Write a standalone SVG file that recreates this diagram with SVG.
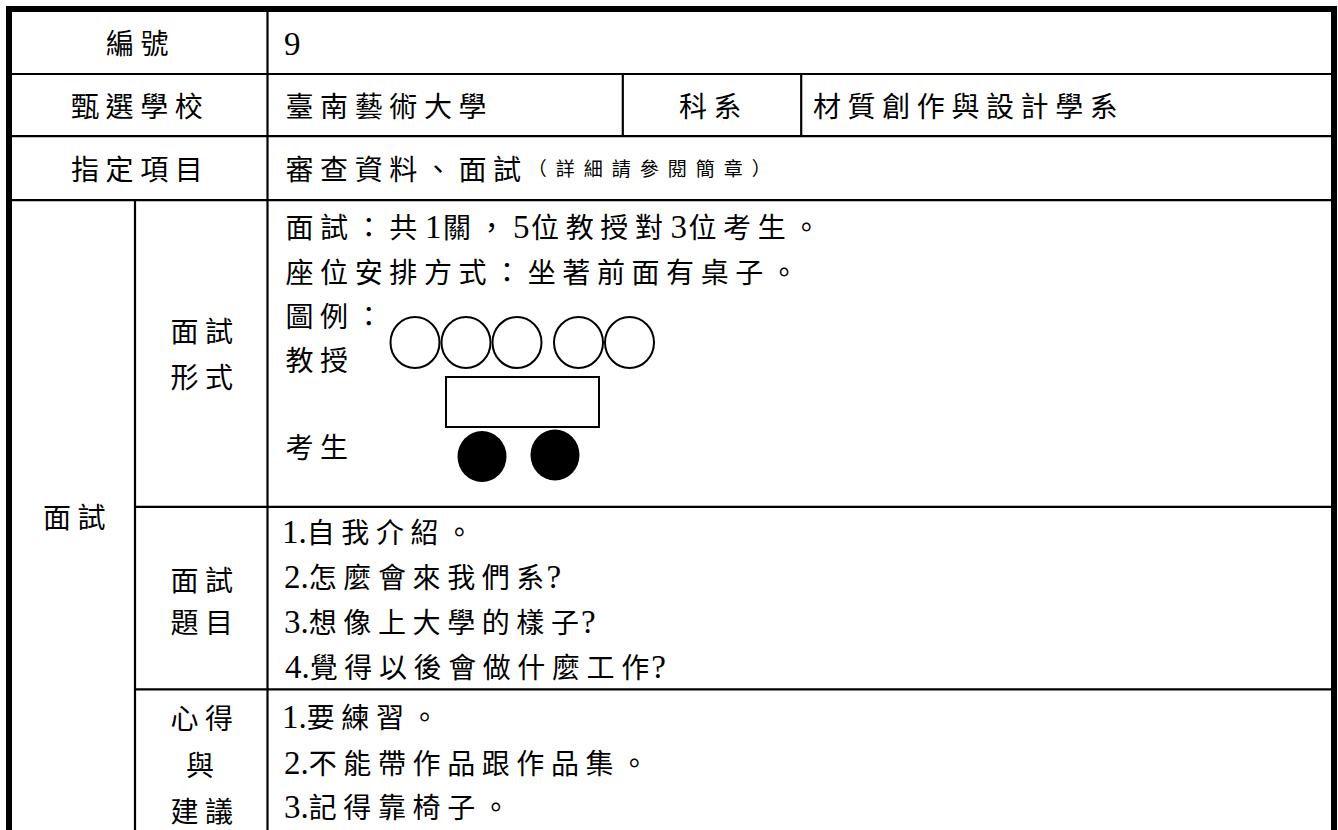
<svg xmlns="http://www.w3.org/2000/svg" width="1338" height="830" viewBox="0 0 1338 830">
<style>
text{font-family:"Liberation Serif","Noto Sans CJK TC",serif;font-size:28px;letter-spacing:6.6px;fill:#000}
.l{font-size:33px;letter-spacing:0}
.d{font-size:33px;letter-spacing:1.5px}
.t{letter-spacing:2px}
.s{font-size:19px;letter-spacing:9px}
.grid line{stroke:#000;stroke-width:2.2}
.frame{fill:none;stroke:#000;stroke-width:6}
.prof{fill:#fff;stroke:#000;stroke-width:2}
.stu{fill:#000}
.desk{fill:#fff;stroke:#000;stroke-width:2}
</style>
<rect width="1338" height="830" fill="#fff"/>
<g id="grid" class="grid">
<line x1="12" y1="74" x2="1331" y2="74"/>
<line x1="12" y1="136.2" x2="1331" y2="136.2"/>
<line x1="12" y1="200.2" x2="1331" y2="200.2"/>
<line x1="135" y1="506.8" x2="1331" y2="506.8"/>
<line x1="135" y1="689.3" x2="1331" y2="689.3"/>
<line x1="267.5" y1="12" x2="267.5" y2="830"/>
<line x1="135" y1="200" x2="135" y2="830"/>
<line x1="622.8" y1="74" x2="622.8" y2="136"/>
<line x1="801.2" y1="74" x2="801.2" y2="136"/>
</g>
<rect id="frame" class="frame" x="9" y="9" width="1325" height="900"/>
<g id="row-number">
<text x="106" y="54">編號</text>
<text x="284" y="55"><tspan class="l">9</tspan></text>
</g>
<g id="row-school">
<text x="71" y="117">甄選學校</text>
<text x="285.5" y="117">臺南藝術大學</text>
<text x="679" y="117">科系</text>
<text x="813" y="117">材質創作與設計學系</text>
</g>
<g id="row-items">
<text x="71" y="180">指定項目</text>
<text x="285.5" y="180">審查資料、面試<tspan class="s" y="176">（詳細請參閱簡章）</tspan></text>
</g>
<g id="interview-label">
<text x="43" y="528">面試</text>
</g>
<g id="form-label">
<text x="170.5" y="342">面試</text>
<text x="170.5" y="388">形式</text>
</g>
<g id="form-content">
<text x="285.5" y="237.5">面試：共<tspan class="d" dx="1">1</tspan>關，<tspan class="d" dx="1">5</tspan>位教授對<tspan class="d" dx="1">3</tspan>位考生。</text>
<text x="285.5" y="283">座位安排方式：坐著前面有桌子。</text>
<text x="285.5" y="327">圖例：</text>
<text x="285.5" y="370.5">教授</text>
<text x="285.5" y="458">考生</text>
</g>
<g id="seating">
<ellipse class="prof" cx="415" cy="342.5" rx="24.5" ry="25.5"/>
<ellipse class="prof" cx="466" cy="342.5" rx="24.5" ry="25.5"/>
<ellipse class="prof" cx="517" cy="342.5" rx="24.5" ry="25.5"/>
<ellipse class="prof" cx="578.5" cy="342.5" rx="24.5" ry="25.5"/>
<ellipse class="prof" cx="629.5" cy="342.5" rx="24.5" ry="25.5"/>
<rect class="desk" x="446" y="377" width="153" height="50"/>
<ellipse class="stu" cx="482" cy="456.5" rx="24.5" ry="25.5"/>
<ellipse class="stu" cx="555" cy="455" rx="24.5" ry="25.5"/>
</g>
<g id="questions-label">
<text x="170.5" y="591">面試</text>
<text x="170.5" y="633">題目</text>
</g>
<g id="questions-content">
<text x="282" y="543"><tspan class="l">1.</tspan>自我介紹。</text>
<text x="284" y="588"><tspan class="l">2.</tspan>怎麼會來我們<tspan class="t">系</tspan><tspan class="l">?</tspan></text>
<text x="284" y="633"><tspan class="l">3.</tspan>想像上大學的樣<tspan class="t">子</tspan><tspan class="l">?</tspan></text>
<text x="285" y="678"><tspan class="l">4.</tspan>覺得以後會做什麼工<tspan class="t">作</tspan><tspan class="l">?</tspan></text>
</g>
<g id="advice-label">
<text x="170.5" y="729">心得</text>
<text x="186" y="776">與</text>
<text x="170.5" y="822">建議</text>
</g>
<g id="advice-content">
<text x="282" y="728"><tspan class="l">1.</tspan>要練習。</text>
<text x="284" y="774"><tspan class="l">2.</tspan>不能帶作品跟作品集。</text>
<text x="284" y="818"><tspan class="l">3.</tspan>記得靠椅子。</text>
</g>
</svg>
